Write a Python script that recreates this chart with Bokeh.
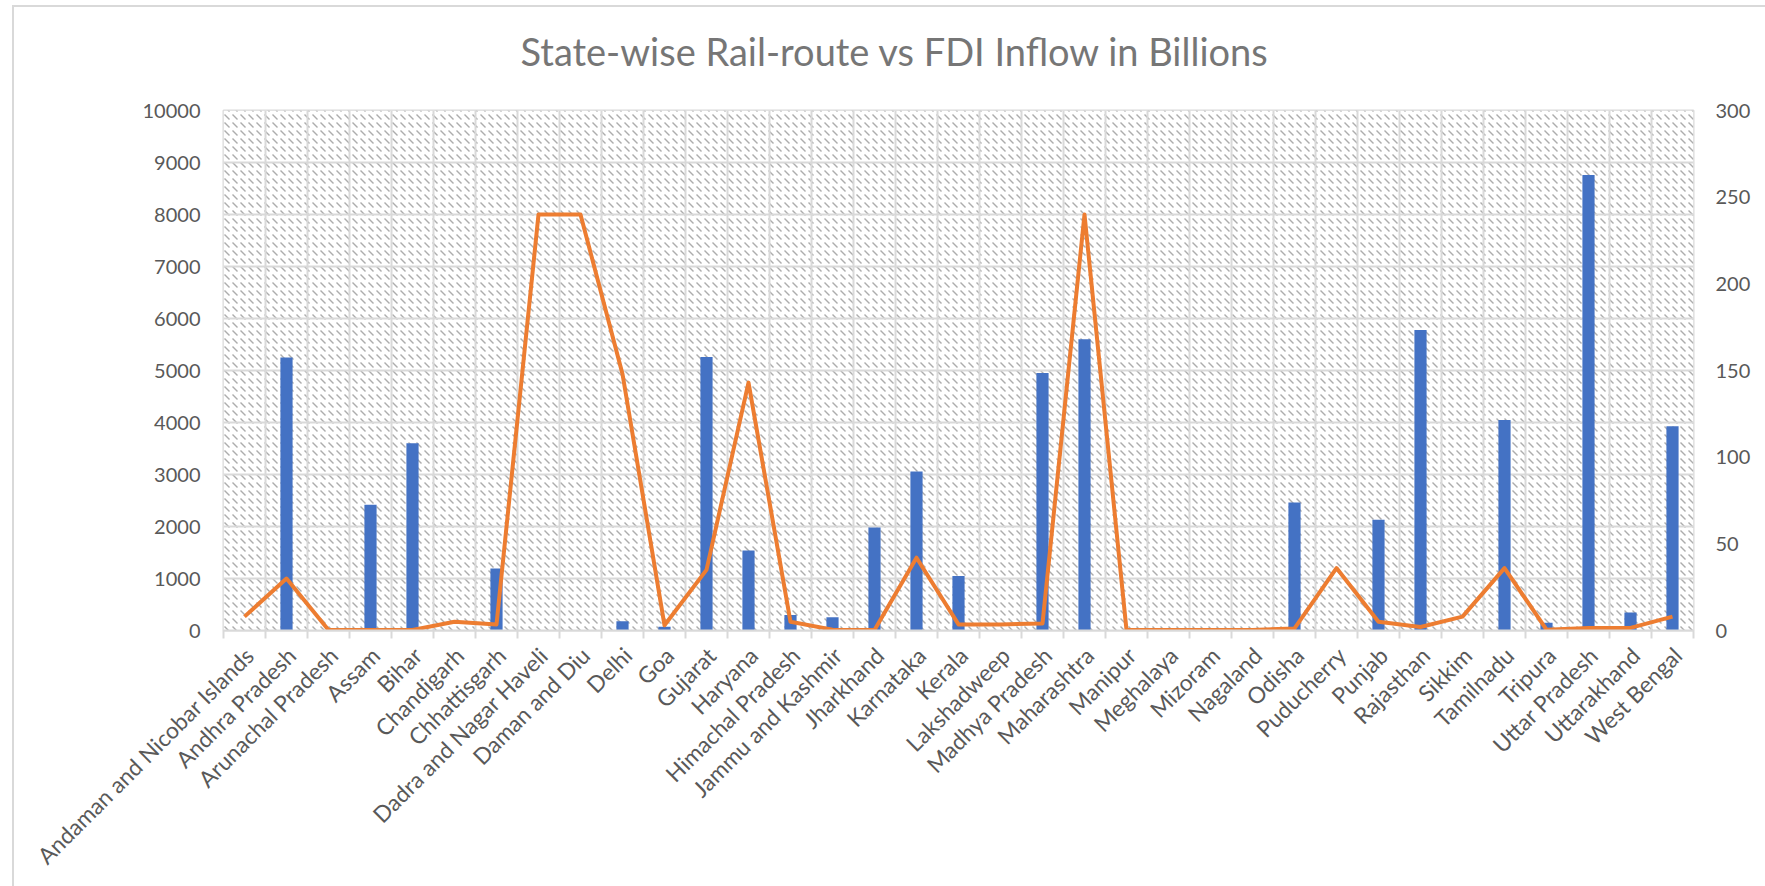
import math

from bokeh.embed import file_html
from bokeh.layouts import column
from bokeh.models import FixedTicker, LinearAxis, Range1d
from bokeh.plotting import figure
from bokeh.resources import INLINE

# State-wise rail route length (km) and FDI inflow (billions)
states = [
    "Andaman and Nicobar Islands", "Andhra Pradesh", "Arunachal Pradesh", "Assam",
    "Bihar", "Chandigarh", "Chhattisgarh", "Dadra and Nagar Haveli", "Daman and Diu",
    "Delhi", "Goa", "Gujarat", "Haryana", "Himachal Pradesh", "Jammu and Kashmir",
    "Jharkhand", "Karnataka", "Kerala", "Lakshadweep", "Madhya Pradesh",
    "Maharashtra", "Manipur", "Meghalaya", "Mizoram", "Nagaland", "Odisha",
    "Puducherry", "Punjab", "Rajasthan", "Sikkim", "Tamilnadu", "Tripura",
    "Uttar Pradesh", "Uttarakhand", "West Bengal",
]
rail_route = [
    0, 5250, 0, 2420, 3600, 0, 1190, 0, 0, 180, 70, 5260, 1540, 296, 256,
    1980, 3060, 1050, 0, 4950, 5600, 0, 0, 0, 0, 2460, 0, 2130, 5780, 0,
    4050, 150, 8760, 345, 3930,
]
fdi_inflow = [
    8, 30, 0.3, 0.3, 0.3, 5, 3.5, 240, 240, 148, 3, 35, 143, 5, 0.5,
    0.3, 42, 3.5, 3.5, 4, 240, 0.3, 0.3, 0.3, 0.3, 1.2, 36, 5, 2, 8,
    36, 0.5, 1.5, 1.5, 8,
]
left_ticks = list(range(0, 10001, 1000))
right_ticks = list(range(0, 301, 50))
chart_title = "State-wise Rail-route vs FDI Inflow in Billions"

GRID = "#D9D9D9"
LABEL = "#595959"
FONT = "Lato"

positions = list(range(len(states)))
x_start, x_end = -0.5, len(states) - 0.5
boundaries = [i - 0.5 for i in range(len(states) + 1)]
# rotated names hang from a point slightly right of each bar
label_anchor = [i + 0.125 for i in positions]

p = figure(
    width=1751, height=894,
    x_range=Range1d(x_start, x_end),
    y_range=Range1d(left_ticks[0], left_ticks[-1]),
    output_backend="svg", toolbar_location=None,
    min_border_left=209, min_border_right=72,
    min_border_top=118, min_border_bottom=256,
    title=chart_title,
)
# canvas starts a little above the chart box so the heading can sit high
p.margin = (-15, 0, 0, 0)
p.extra_y_ranges = {"fdi": Range1d(right_ticks[0], right_ticks[-1])}

p.background_fill_color = "white"
p.border_fill_color = "white"
p.outline_line_color = GRID
p.outline_line_width = 2

# heading sits over the middle of the whole chart, not just the plot frame
p.title.align = "left"
p.title.offset = 297
p.title.vertical_align = "top"
p.title.standoff = 70
p.title.text_font = FONT
p.title.text_font_size = "38px"
p.title.text_font_style = "normal"
p.title.text_color = "#767676"

# patterned plot area
p.quad(left=x_start, right=x_end, bottom=left_ticks[0], top=left_ticks[-1],
       fill_color="white", line_color=None,
       hatch_pattern="left_diagonal_dash", hatch_color="#ADADAD",
       hatch_scale=8, hatch_weight=1.4, level="image")

# x axis: state names, tick marks on category boundaries
xaxis = p.xaxis[0]
xaxis.ticker = FixedTicker(ticks=label_anchor, minor_ticks=boundaries)
xaxis.major_label_overrides = dict(zip(label_anchor, states))
xaxis.major_label_orientation = math.pi / 4
xaxis.major_label_text_font = FONT
xaxis.major_label_text_font_size = "22.7px"
xaxis.major_label_text_color = LABEL
xaxis.major_label_standoff = 13
xaxis.major_tick_line_color = None
xaxis.major_tick_out = 0
xaxis.major_tick_in = 0
xaxis.minor_tick_line_color = GRID
xaxis.minor_tick_line_width = 2
xaxis.minor_tick_out = 8
xaxis.minor_tick_in = 0
xaxis.axis_line_color = GRID
xaxis.axis_line_width = 2

p.xgrid.grid_line_color = None
p.xgrid.minor_grid_line_color = GRID
p.xgrid.minor_grid_line_width = 2

# left axis: rail route
yaxis = p.yaxis[0]
yaxis.ticker = FixedTicker(ticks=left_ticks)
yaxis.axis_line_color = None
yaxis.major_tick_line_color = None
yaxis.minor_tick_line_color = None
yaxis.major_tick_out = 0
yaxis.major_tick_in = 0
yaxis.major_label_standoff = 23
yaxis.major_label_text_font = FONT
yaxis.major_label_text_font_size = "20px"
yaxis.major_label_text_color = LABEL

p.ygrid.grid_line_color = GRID
p.ygrid.grid_line_width = 2

# right axis: FDI inflow
raxis = LinearAxis(y_range_name="fdi", ticker=FixedTicker(ticks=right_ticks))
raxis.axis_line_color = None
raxis.major_tick_line_color = None
raxis.minor_tick_line_color = None
raxis.major_tick_out = 0
raxis.major_tick_in = 0
raxis.major_label_standoff = 22
raxis.major_label_text_font = FONT
raxis.major_label_text_font_size = "20px"
raxis.major_label_text_color = LABEL
p.add_layout(raxis, "right")

p.vbar(x=positions, top=rail_route, width=0.29, fill_color="#4472C4", line_color=None)
p.line(x=positions, y=fdi_inflow, y_range_name="fdi",
       line_color="#ED7D31", line_width=4, line_join="round")

# chart box with a light frame on its left and top edges
chart = column(
    p, margin=(5, 0, 0, 12),
    styles={"border-left": "2px solid #D9D9D9", "border-top": "2px solid #D9D9D9",
            "overflow": "hidden", "background-color": "white"},
)

open("out.html", "w").write(file_html(chart, INLINE))
